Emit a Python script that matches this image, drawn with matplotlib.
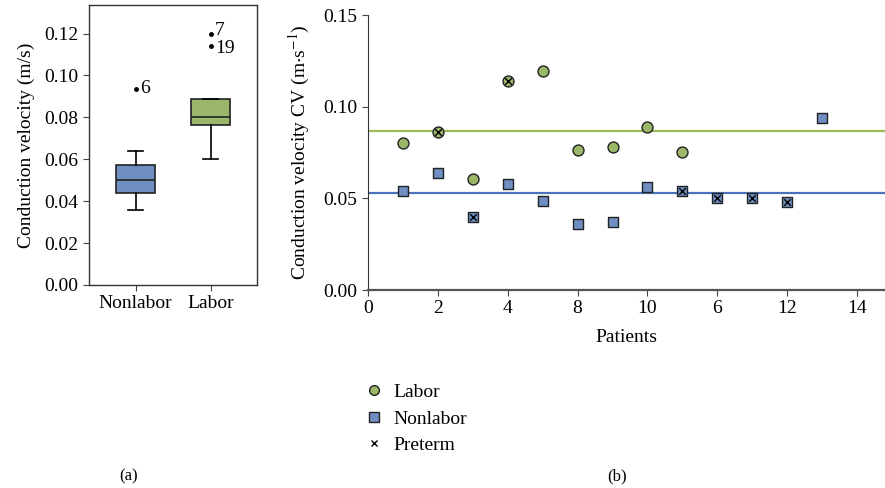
import numpy as np
import matplotlib
matplotlib.use('Agg')
import matplotlib.pyplot as plt
from matplotlib.lines import Line2D

plt.rcParams['font.family'] = ['Liberation Serif', 'DejaVu Serif']
plt.rcParams['mathtext.fontset'] = 'stix'

# (a) box plot summary values
groups = ['Nonlabor', 'Labor']
box_med = [0.0501, 0.0802]
box_q1 = [0.0441, 0.0763]
box_q3 = [0.0572, 0.0890]
box_lo = [0.0360, 0.0602]
box_hi = [0.0640, 0.0890]
outliers = [[0.0936], [0.1199, 0.1143]]
outlier_labels = [['6'], ['7', '19']]
label_shift = [[0.0], [0.0015, -0.0015]]

# (b) per patient values
labor_x = [1, 2, 3, 4, 5, 6, 7, 8, 9]
labor_cv = [0.0800, 0.0860, 0.0604, 0.1142, 0.1196, 0.0762, 0.0780, 0.0889, 0.0753]
labor_preterm = [False, True, False, True, False, False, False, False, False]
nonlabor_x = [1, 2, 3, 4, 5, 6, 7, 8, 9, 10, 11, 12, 13]
nonlabor_cv = [0.0540, 0.0638, 0.0400, 0.0577, 0.0486, 0.0358, 0.0369, 0.0564,
               0.0542, 0.0504, 0.0502, 0.0480, 0.0938]
nonlabor_preterm = [False, False, True, False, False, False, False, False,
                    True, True, True, True, False]
labor_mean = 0.0866
nonlabor_mean = 0.0531
xtick_pos = [0, 2, 4, 6, 8, 10, 12, 14]
xtick_labels = ['0', '2', '4', '8', '10', '6', '12', '14']

green = '#9BB86A'
blue = '#6F8EC2'
green_line = '#9BBB59'
blue_line = '#4A72B8'
fs = 14

fig = plt.figure(figsize=(8.85, 4.88), dpi=100)

# ---- (a)
ax1 = fig.add_axes([0.1006, 0.416, 0.1898, 0.574])
stats = []
for i in range(2):
    stats.append(dict(med=box_med[i], q1=box_q1[i], q3=box_q3[i],
                      whislo=box_lo[i], whishi=box_hi[i], fliers=[]))
bp = ax1.bxp(stats, positions=[1, 2], widths=0.51, patch_artist=True,
             showfliers=False, capwidths=0.2,
             medianprops=dict(color='#222222', lw=1.2),
             whiskerprops=dict(color='black', lw=1.2),
             capprops=dict(color='black', lw=1.2),
             boxprops=dict(edgecolor='#222222', lw=1.2))
for patch, c in zip(bp['boxes'], [blue, green]):
    patch.set_facecolor(c)
for i in range(2):
    for v, lab, dv in zip(outliers[i], outlier_labels[i], label_shift[i]):
        ax1.plot(i + 1, v, 'o', color='black', ms=2.5)
        ax1.text(i + 1.06, v + dv, lab, fontsize=fs, va='center', ha='left')
ax1.set_xlim(0.38, 2.62)
ax1.set_ylim(0, 0.1337)
ax1.set_yticks([0, 0.02, 0.04, 0.06, 0.08, 0.10, 0.12])
ax1.set_yticklabels(['0.00', '0.02', '0.04', '0.06', '0.08', '0.10', '0.12'])
ax1.set_xticks([1, 2])
ax1.set_xticklabels(groups)
ax1.tick_params(labelsize=fs, direction='out', length=4, color='#444444')
ax1.set_ylabel('Conduction velocity (m/s)', fontsize=fs, labelpad=7)
for s in ax1.spines.values():
    s.set_color('#333333')
    s.set_linewidth(1.0)

# ---- (b)
ax2 = fig.add_axes([0.4158, 0.4057, 0.5842, 0.5635])
ax2.axhline(labor_mean, color=green_line, lw=1.6, zorder=1)
ax2.axhline(nonlabor_mean, color=blue_line, lw=1.6, zorder=1)
ax2.scatter(labor_x, labor_cv, marker='o', s=62, c=green, edgecolors='#222222',
            linewidths=1.0, zorder=3)
ax2.scatter(nonlabor_x, nonlabor_cv, marker='s', s=62, c=blue, edgecolors='#222222',
            linewidths=1.0, zorder=3)
px = [x for x, p in zip(labor_x, labor_preterm) if p] + \
     [x for x, p in zip(nonlabor_x, nonlabor_preterm) if p]
py = [v for v, p in zip(labor_cv, labor_preterm) if p] + \
     [v for v, p in zip(nonlabor_cv, nonlabor_preterm) if p]
ax2.scatter(px, py, marker='x', s=22, c='black', linewidths=1.0, zorder=4)
ax2.set_xlim(0, 14.8)
ax2.set_ylim(0, 0.15)
ax2.set_yticks([0, 0.05, 0.10, 0.15])
ax2.set_yticklabels(['0.00', '0.05', '0.10', '0.15'])
ax2.set_xticks(xtick_pos)
ax2.set_xticklabels(xtick_labels)
ax2.spines['top'].set_visible(False)
ax2.spines['right'].set_visible(False)
ax2.spines['left'].set_color('#333333')
ax2.spines['bottom'].set_color('#555555')
ax2.spines['bottom'].set_linewidth(1.6)
ax2.tick_params(labelsize=fs, direction='out', length=4, color='#444444')
ax2.set_ylabel('Conduction velocity CV (m$\\cdot$s$^{-1}$)', fontsize=fs, labelpad=8)
ax2.set_xlabel('Patients', fontsize=fs, labelpad=8)

handles = [
    Line2D([], [], marker='o', ls='', ms=7, mfc=green, mec='#222222', mew=1.0),
    Line2D([], [], marker='s', ls='', ms=7, mfc=blue, mec='#222222', mew=1.0),
    Line2D([], [], marker='x', ls='', ms=5, color='black', mew=1.0),
]
fig.legend(handles, ['Labor', 'Nonlabor', 'Preterm'], loc='upper left',
           bbox_to_anchor=(0.405, 0.23), frameon=False, fontsize=fs,
           handlelength=0.8, handletextpad=0.6, labelspacing=0.45,
           borderaxespad=0)

fig.text(0.145, 0.0246, '(a)', fontsize=12, ha='center', va='center')
fig.text(0.697, 0.0246, '(b)', fontsize=12, ha='center', va='center')

fig.savefig('out.png', dpi=100)
